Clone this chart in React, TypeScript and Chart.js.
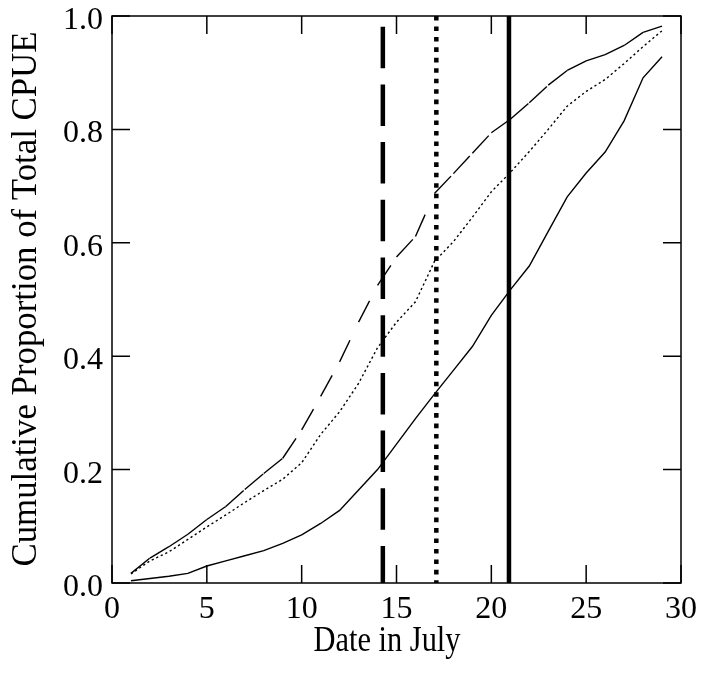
import { useEffect, useRef } from "react";
import { Chart, registerables } from "chart.js";

Chart.register(...registerables);

// ---- data ----
const days = [1, 2, 3, 4, 5, 6, 7, 8, 9, 10, 11, 12, 13, 14, 15, 16, 17, 18, 19, 20, 21, 22, 23, 24, 25, 26, 27, 28, 29];
const earlyRunCPUE = [0.017, 0.044, 0.064, 0.086, 0.112, 0.135, 0.165, 0.193, 0.22, 0.27, 0.329, 0.39, 0.46, 0.525, 0.575, 0.611, 0.687, 0.722, 0.758, 0.794, 0.818, 0.847, 0.878, 0.904, 0.921, 0.932, 0.948, 0.971, 0.982];
const midRunCPUE = [0.016, 0.039, 0.055, 0.077, 0.099, 0.12, 0.142, 0.163, 0.183, 0.212, 0.262, 0.302, 0.352, 0.415, 0.46, 0.496, 0.567, 0.602, 0.645, 0.69, 0.724, 0.761, 0.8, 0.841, 0.867, 0.888, 0.916, 0.946, 0.974];
const lateRunCPUE = [0.004, 0.008, 0.012, 0.017, 0.03, 0.039, 0.048, 0.057, 0.07, 0.085, 0.105, 0.128, 0.164, 0.2, 0.245, 0.29, 0.333, 0.375, 0.417, 0.472, 0.517, 0.559, 0.62, 0.681, 0.723, 0.76, 0.815, 0.891, 0.928];
const medianDays = [14.28, 17.1, 20.93]; // dashed, dotted, solid
const xTicks = [0, 5, 10, 15, 20, 25, 30];
const yTicks = [0, 0.2, 0.4, 0.6, 0.8, 1.0];
const xTitle = "Date in July";
const yTitle = "Cumulative Proportion of Total CPUE";

const toPoints = (vals: number[]) => days.map((d, i) => ({ x: d, y: vals[i] }));
const vline = (d: number) => [{ x: d, y: 1 }, { x: d, y: 0 }];

const zeroPad = (s: any) => {
  s.paddingTop = 0;
  s.paddingBottom = 0;
  s.paddingLeft = 0;
  s.paddingRight = 0;
};

const framePlugin = {
  id: "frameAndTitles",
  afterDraw(chart: any) {
    const { ctx, chartArea: a, scales } = chart;
    const x = scales.x;
    const y = scales.y;
    ctx.save();
    ctx.strokeStyle = "#000";
    ctx.lineWidth = 1.5;
    ctx.setLineDash([]);
    ctx.strokeRect(a.left, a.top, a.right - a.left, a.bottom - a.top);
    ctx.beginPath();
    for (const t of xTicks) {
      const px = x.getPixelForValue(t);
      ctx.moveTo(px, a.bottom);
      ctx.lineTo(px, a.bottom - 18);
      ctx.moveTo(px, a.top);
      ctx.lineTo(px, a.top + 18);
    }
    for (const t of yTicks) {
      const py = y.getPixelForValue(t);
      ctx.moveTo(a.left, py);
      ctx.lineTo(a.left + 18, py);
      ctx.moveTo(a.right, py);
      ctx.lineTo(a.right - 18, py);
    }
    ctx.stroke();

    ctx.fillStyle = "#000";
    ctx.textAlign = "center";
    ctx.textBaseline = "alphabetic";
    ctx.font = '35px "Liberation Serif"';
    const wx = ctx.measureText(xTitle).width;
    ctx.save();
    ctx.translate(387, 651);
    ctx.scale(147 / wx, 1);
    ctx.fillText(xTitle, 0, 0);
    ctx.restore();

    ctx.font = '36px "Liberation Serif"';
    const wy = ctx.measureText(yTitle).width;
    ctx.save();
    ctx.translate(36, 299);
    ctx.rotate(-Math.PI / 2);
    ctx.scale(535 / wy, 1);
    ctx.fillText(yTitle, 0, 0);
    ctx.restore();
    ctx.restore();
  },
};

export default function App() {
  const ref = useRef<HTMLCanvasElement | null>(null);
  useEffect(() => {
    if (!ref.current) return;
    const chart = new Chart(ref.current, {
      type: "line",
      data: {
        datasets: [
          {
            data: toPoints(earlyRunCPUE),
            borderColor: "#000",
            borderWidth: 1.4,
            borderDash: [24, 40],
            pointRadius: 0,
            tension: 0,
            segment: {
              borderDashOffset: (c: any) => (c.p0DataIndex % 2 ? 0.001 : 0),
            },
          },
          {
            data: toPoints(midRunCPUE),
            borderColor: "#000",
            borderWidth: 1.4,
            borderDash: [2.2, 2.8],
            pointRadius: 0,
            tension: 0,
          },
          {
            data: toPoints(lateRunCPUE),
            borderColor: "#000",
            borderWidth: 1.4,
            pointRadius: 0,
            tension: 0,
          },
          {
            data: vline(medianDays[0]),
            borderColor: "#000",
            borderWidth: 4.5,
            borderDash: [41.5, 16.2],
            borderDashOffset: 47,
            borderCapStyle: "butt",
            pointRadius: 0,
          },
          {
            data: vline(medianDays[1]),
            borderColor: "#000",
            borderWidth: 4.5,
            borderDash: [4.6, 5.85],
            borderCapStyle: "butt",
            pointRadius: 0,
          },
          {
            data: vline(medianDays[2]),
            borderColor: "#000",
            borderWidth: 4.5,
            pointRadius: 0,
          },
        ],
      },
      options: {
        animation: false,
        responsive: false,
        layout: { padding: { left: 0, right: 20, top: 16, bottom: 0 } },
        plugins: { legend: { display: false }, tooltip: { enabled: false } },
        scales: {
          x: {
            type: "linear",
            min: 0,
            max: 30,
            grid: { display: false, drawTicks: false },
            border: { display: false },
            afterFit: (s: any) => {
              s.height = 96;
              zeroPad(s);
            },
            afterBuildTicks: (s: any) => {
              s.ticks = xTicks.map((v) => ({ value: v }));
            },
            ticks: {
              padding: 11,
              color: "#000",
              font: { family: '"Liberation Serif"', size: 32, lineHeight: 1 },
              maxRotation: 0,
            },
          },
          y: {
            type: "linear",
            min: 0,
            max: 1,
            grid: { display: false, drawTicks: false },
            border: { display: false },
            afterFit: (s: any) => {
              s.width = 112;
              zeroPad(s);
            },
            afterBuildTicks: (s: any) => {
              s.ticks = yTicks.map((v) => ({ value: v }));
            },
            ticks: {
              padding: 9,
              labelOffset: 4.5,
              color: "#000",
              font: { family: '"Liberation Serif"', size: 32, lineHeight: 1 },
              callback: (v: any) => Number(v).toFixed(1),
            },
          },
        },
      },
      plugins: [framePlugin],
    });
    return () => chart.destroy();
  }, []);
  return (
    <div style={{ position: "absolute", left: 0, top: 0, width: 701, height: 679, background: "#fff" }}>
      <canvas ref={ref} width={701} height={679} style={{ display: "block" }} />
    </div>
  );
}
